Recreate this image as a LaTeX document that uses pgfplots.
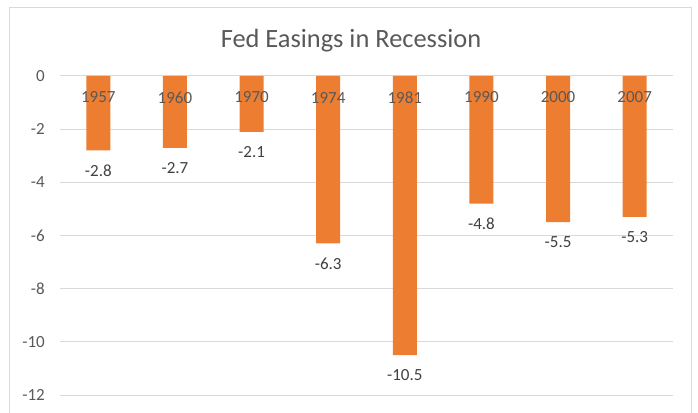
\documentclass[border=0pt]{standalone}
\usepackage{pgfplots}
\pgfplotsset{compat=1.18}
\usepackage{fontspec}
\setmainfont{Carlito}
\definecolor{barorange}{HTML}{ED7D31}
\definecolor{gridgray}{HTML}{D9D9D9}
\definecolor{txtgray}{HTML}{595959}
\definecolor{lblgray}{HTML}{404040}
\begin{document}
\begin{tikzpicture}[x=1pt,y=1pt]
\useasboundingbox (-60,76) rectangle (638,-336);
\draw[gridgray, line width=1pt] (-50.5,68.5) rectangle (631,-345);
\node[anchor=base, font=\fontsize{26.4}{30}\selectfont, text=txtgray, inner sep=0pt] at (291,28) {Fed Easings in Recession};
\begin{axis}[at={(0,0)}, anchor=north west, scale only axis,
  width=613pt, height=319pt,
  xmin=-0.5, xmax=7.5, ymin=-12, ymax=0,
  axis line style={draw=none}, major tick length=0pt,
  ytick={-12,-10,...,0}, ymajorgrids,
  grid style={gridgray, line width=1pt},
  xtick=\empty,
  yticklabel style={anchor=east, inner sep=0pt, xshift=-15pt, text=txtgray, font=\fontsize{17}{20}\selectfont},
  /pgf/number format/assume math mode=true,
  clip=false,
]
\addplot[ybar, bar width=24pt, bar shift=0pt, fill=barorange, draw=none,
  nodes near coords,
  nodes near coords style={anchor=center, yshift=-20pt, text=lblgray, font=\fontsize{17}{20}\selectfont,
    /pgf/number format/.cd, fixed, fixed zerofill, precision=1, assume math mode=true},
] coordinates {(0,-2.8) (1,-2.7) (2,-2.1) (3,-6.3) (4,-10.5) (5,-4.8) (6,-5.5) (7,-5.3)};
\addplot[draw=none, mark=none, nodes near coords, point meta=explicit symbolic,
  nodes near coords style={anchor=center, yshift=-21.5pt, text=txtgray, font=\fontsize{17}{20}\selectfont},
] coordinates {(0,0) [1957] (1,0) [1960] (2,0) [1970] (3,0) [1974] (4,0) [1981] (5,0) [1990] (6,0) [2000] (7,0) [2007]};
\end{axis}
\end{tikzpicture}
\end{document}
